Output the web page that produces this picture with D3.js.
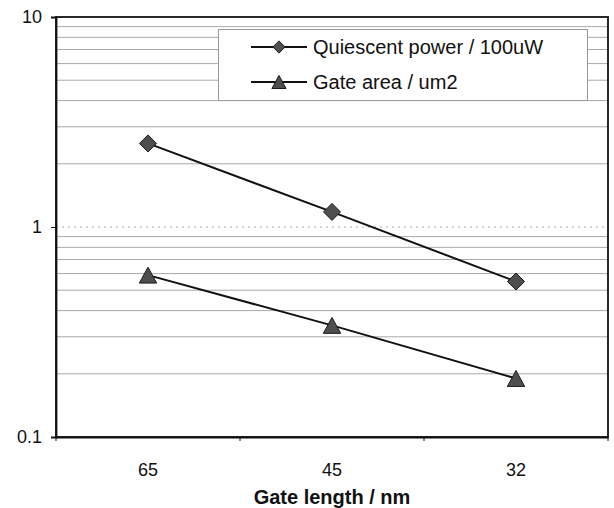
<!DOCTYPE html>
<html>
<head>
<meta charset="utf-8">
<script src="https://cdn.jsdelivr.net/npm/d3@7"></script>
<style>
  html, body { margin: 0; padding: 0; background: #fff; }
  svg { display: block; }
  text { font-family: "Liberation Sans", Arial, sans-serif; fill: #111; }
</style>
</head>
<body>
<svg id="chart" width="614" height="508"></svg>
<script>
// Gate length nodes (nm) and the two scaled quantities plotted on a log axis
const categories = ["65", "45", "32"];
const quiescentPower = [2.5, 1.18, 0.55];   // per 100uW
const gateArea = [0.59, 0.34, 0.19];        // um2
const yTickValues = [0.1, 1, 10];
const yTickLabels = ["0.1", "1", "10"];
const seriesNames = ["Quiescent power / 100uW", "Gate area / um2"];
const xTitle = "Gate length / nm";

const svg = d3.select("#chart");
const plot = { left: 56, right: 608, top: 17, bottom: 437 };

const x = d3.scaleBand().domain(categories).range([plot.left, plot.right]);
const y = d3.scaleLog().domain([0.1, 10]).range([plot.bottom, plot.top]);

// Minor grid: 0.2..0.9 and 2..9
const minorGrid = y.ticks().filter(v => !yTickValues.some(t => Math.abs(t - v) < 1e-9));
svg.append("g").selectAll("line").data(minorGrid).join("line")
  .attr("x1", plot.left).attr("x2", plot.right)
  .attr("y1", d => y(d)).attr("y2", d => y(d))
  .attr("stroke", "#959595").attr("stroke-width", 1).attr("opacity", 0.8);

// Major grid at 1, faint and dotted
svg.append("g").selectAll("line").data([1]).join("line")
  .attr("x1", plot.left).attr("x2", plot.right)
  .attr("y1", d => y(d)).attr("y2", d => y(d))
  .attr("stroke", "#aaa").attr("stroke-width", 1).attr("stroke-dasharray", "2,4");

// Frame of the plot area
svg.append("rect")
  .attr("x", plot.left).attr("y", plot.top)
  .attr("width", plot.right - plot.left).attr("height", plot.bottom - plot.top)
  .attr("fill", "none").attr("stroke", "#111").attr("stroke-width", 1.8);

// Y axis (log, decades only)
const yAxis = d3.axisLeft(y).tickValues(yTickValues)
  .tickFormat((d, i) => yTickLabels[i]).tickSize(5).tickPadding(9);
const gy = svg.append("g").attr("transform", `translate(${plot.left},0)`).call(yAxis);
gy.select(".domain").attr("stroke", "#111").attr("stroke-width", 1.8);
gy.selectAll(".tick line").attr("stroke", "#111");
gy.selectAll(".tick text").attr("font-size", 18).attr("font-family", "Liberation Sans, Arial, sans-serif").attr("fill", "#111");

// X axis: labels centred on bands, tick marks on band edges
const xAxis = d3.axisBottom(x).tickSize(0).tickPadding(26);
const gx = svg.append("g").attr("transform", `translate(0,${plot.bottom})`).call(xAxis);
gx.select(".domain").attr("stroke", "#111").attr("stroke-width", 1.8);
gx.selectAll(".tick text").attr("font-size", 18).attr("font-family", "Liberation Sans, Arial, sans-serif").attr("fill", "#111");
const edges = categories.map(c => x(c)).concat([x(categories[categories.length - 1]) + x.bandwidth()]);
svg.append("g").selectAll("line").data(edges).join("line")
  .attr("x1", d => d).attr("x2", d => d)
  .attr("y1", plot.bottom).attr("y2", plot.bottom + 4)
  .attr("stroke", "#111").attr("stroke-width", 1);

svg.append("text")
  .attr("x", (plot.left + plot.right) / 2).attr("y", 504)
  .attr("text-anchor", "middle").attr("font-size", 20).attr("font-weight", "bold")
  .attr("fill", "#222")
  .text(xTitle);

// Marker shapes: rotated square and a box-centred triangle
const diamond = {
  draw(ctx, size) {
    const r = Math.sqrt(size) / Math.SQRT2;
    ctx.moveTo(0, -r); ctx.lineTo(r, 0); ctx.lineTo(0, r); ctx.lineTo(-r, 0); ctx.closePath();
  }
};
const triangle = {
  draw(ctx, size) {
    const w = Math.sqrt(size * 2);
    const h = w * 0.92;
    ctx.moveTo(0, -h / 2); ctx.lineTo(w / 2, h / 2); ctx.lineTo(-w / 2, h / 2); ctx.closePath();
  }
};

const cx = c => x(c) + x.bandwidth() / 2;
const line = d3.line().x(d => cx(d.c)).y(d => y(d.v));
const series = [
  { name: seriesNames[0], values: quiescentPower, shape: diamond, size: 145, legendSize: 75 },
  { name: seriesNames[1], values: gateArea, shape: triangle, size: 150, legendSize: 100 }
];

series.forEach(s => {
  const pts = categories.map((c, i) => ({ c, v: s.values[i] }));
  svg.append("path").datum(pts).attr("d", line)
    .attr("fill", "none").attr("stroke", "#111").attr("stroke-width", 2);
  svg.append("g").selectAll("path").data(pts).join("path")
    .attr("transform", d => `translate(${cx(d.c)},${y(d.v)})`)
    .attr("d", d3.symbol().type(s.shape).size(s.size))
    .attr("fill", "#4e4e4e").attr("stroke", "#1a1a1a").attr("stroke-width", 1);
});

// Legend
const legend = svg.append("g");
legend.append("rect")
  .attr("x", 218.5).attr("y", 29.5).attr("width", 369).attr("height", 71)
  .attr("fill", "#fff").attr("stroke", "#999").attr("stroke-width", 1);
const rows = [47, 82];
series.forEach((s, i) => {
  const g = legend.append("g").attr("transform", `translate(0,${rows[i]})`);
  g.append("line").attr("x1", 251).attr("x2", 307).attr("y1", 0).attr("y2", 0)
    .attr("stroke", "#111").attr("stroke-width", 2);
  g.append("path").attr("transform", "translate(279,0)")
    .attr("d", d3.symbol().type(s.shape).size(s.legendSize))
    .attr("fill", "#4e4e4e").attr("stroke", "#1a1a1a").attr("stroke-width", 1);
  g.append("text").attr("x", 313).attr("y", 7).attr("font-size", 20).text(s.name);
});
</script>
</body>
</html>
